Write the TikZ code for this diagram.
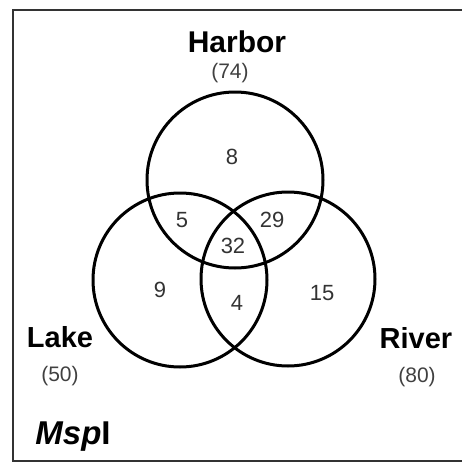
\documentclass[tikz,border=0pt]{standalone}
\usepackage{fontspec}
\setmainfont{Liberation Sans}
\begin{document}
\begin{tikzpicture}[x=1pt,y=-1pt,
  setcircle/.style={circle,draw=black,line width=3pt,minimum size=#1,inner sep=0pt},
  setname/.style={inner sep=0pt,anchor=base,font=\fontsize{29}{34}\selectfont\bfseries},
  setsize/.style={inner sep=0pt,anchor=base,text=black!75,font=\fontsize{21}{25}\selectfont},
  count/.style={inner sep=0pt,anchor=center,text=black!80,font=\fontsize{22}{26}\selectfont}]
\useasboundingbox (0,0) rectangle (461,463);
% frame (open on the right)
\draw[line width=2pt,black!80] (470,10) -- (13,10) -- (13,461) -- (470,461);
% the three sets
\node[setcircle=176pt] (harbor) at (235,180) {};
\node[setcircle=174pt] (lake)   at (180,280) {};
\node[setcircle=174pt] (river)  at (288,279) {};
% set names and totals
\node[setname,font=\fontsize{30}{35}\selectfont\bfseries] (harborname) at (237,52) {Harbor};
\node[setsize] (harborsize) at (230,78) {(74)};
\node[setname] (lakename) at (60,347) {Lake};
\node[setsize] (lakesize) at (60,381) {(50)};
\node[setname] (rivername) at (416,348) {River};
\node[setsize] (riversize) at (417,382) {(80)};
% region counts
\node[count] (onlyharbor) at (232,157) {8};
\node[count] (harborlake) at (182,220) {5};
\node[count] (harborriver) at (272,220) {29};
\node[count] (allthree) at (233,246) {32};
\node[count] (onlylake) at (160,290) {9};
\node[count] (onlyriver) at (322,293) {15};
\node[count] (lakeriver) at (237,303) {4};
% enzyme label
\node[setname,font=\fontsize{33}{38}\selectfont\bfseries] (enzyme) at (73,444) {\textit{Msp}I};
\end{tikzpicture}
\end{document}
